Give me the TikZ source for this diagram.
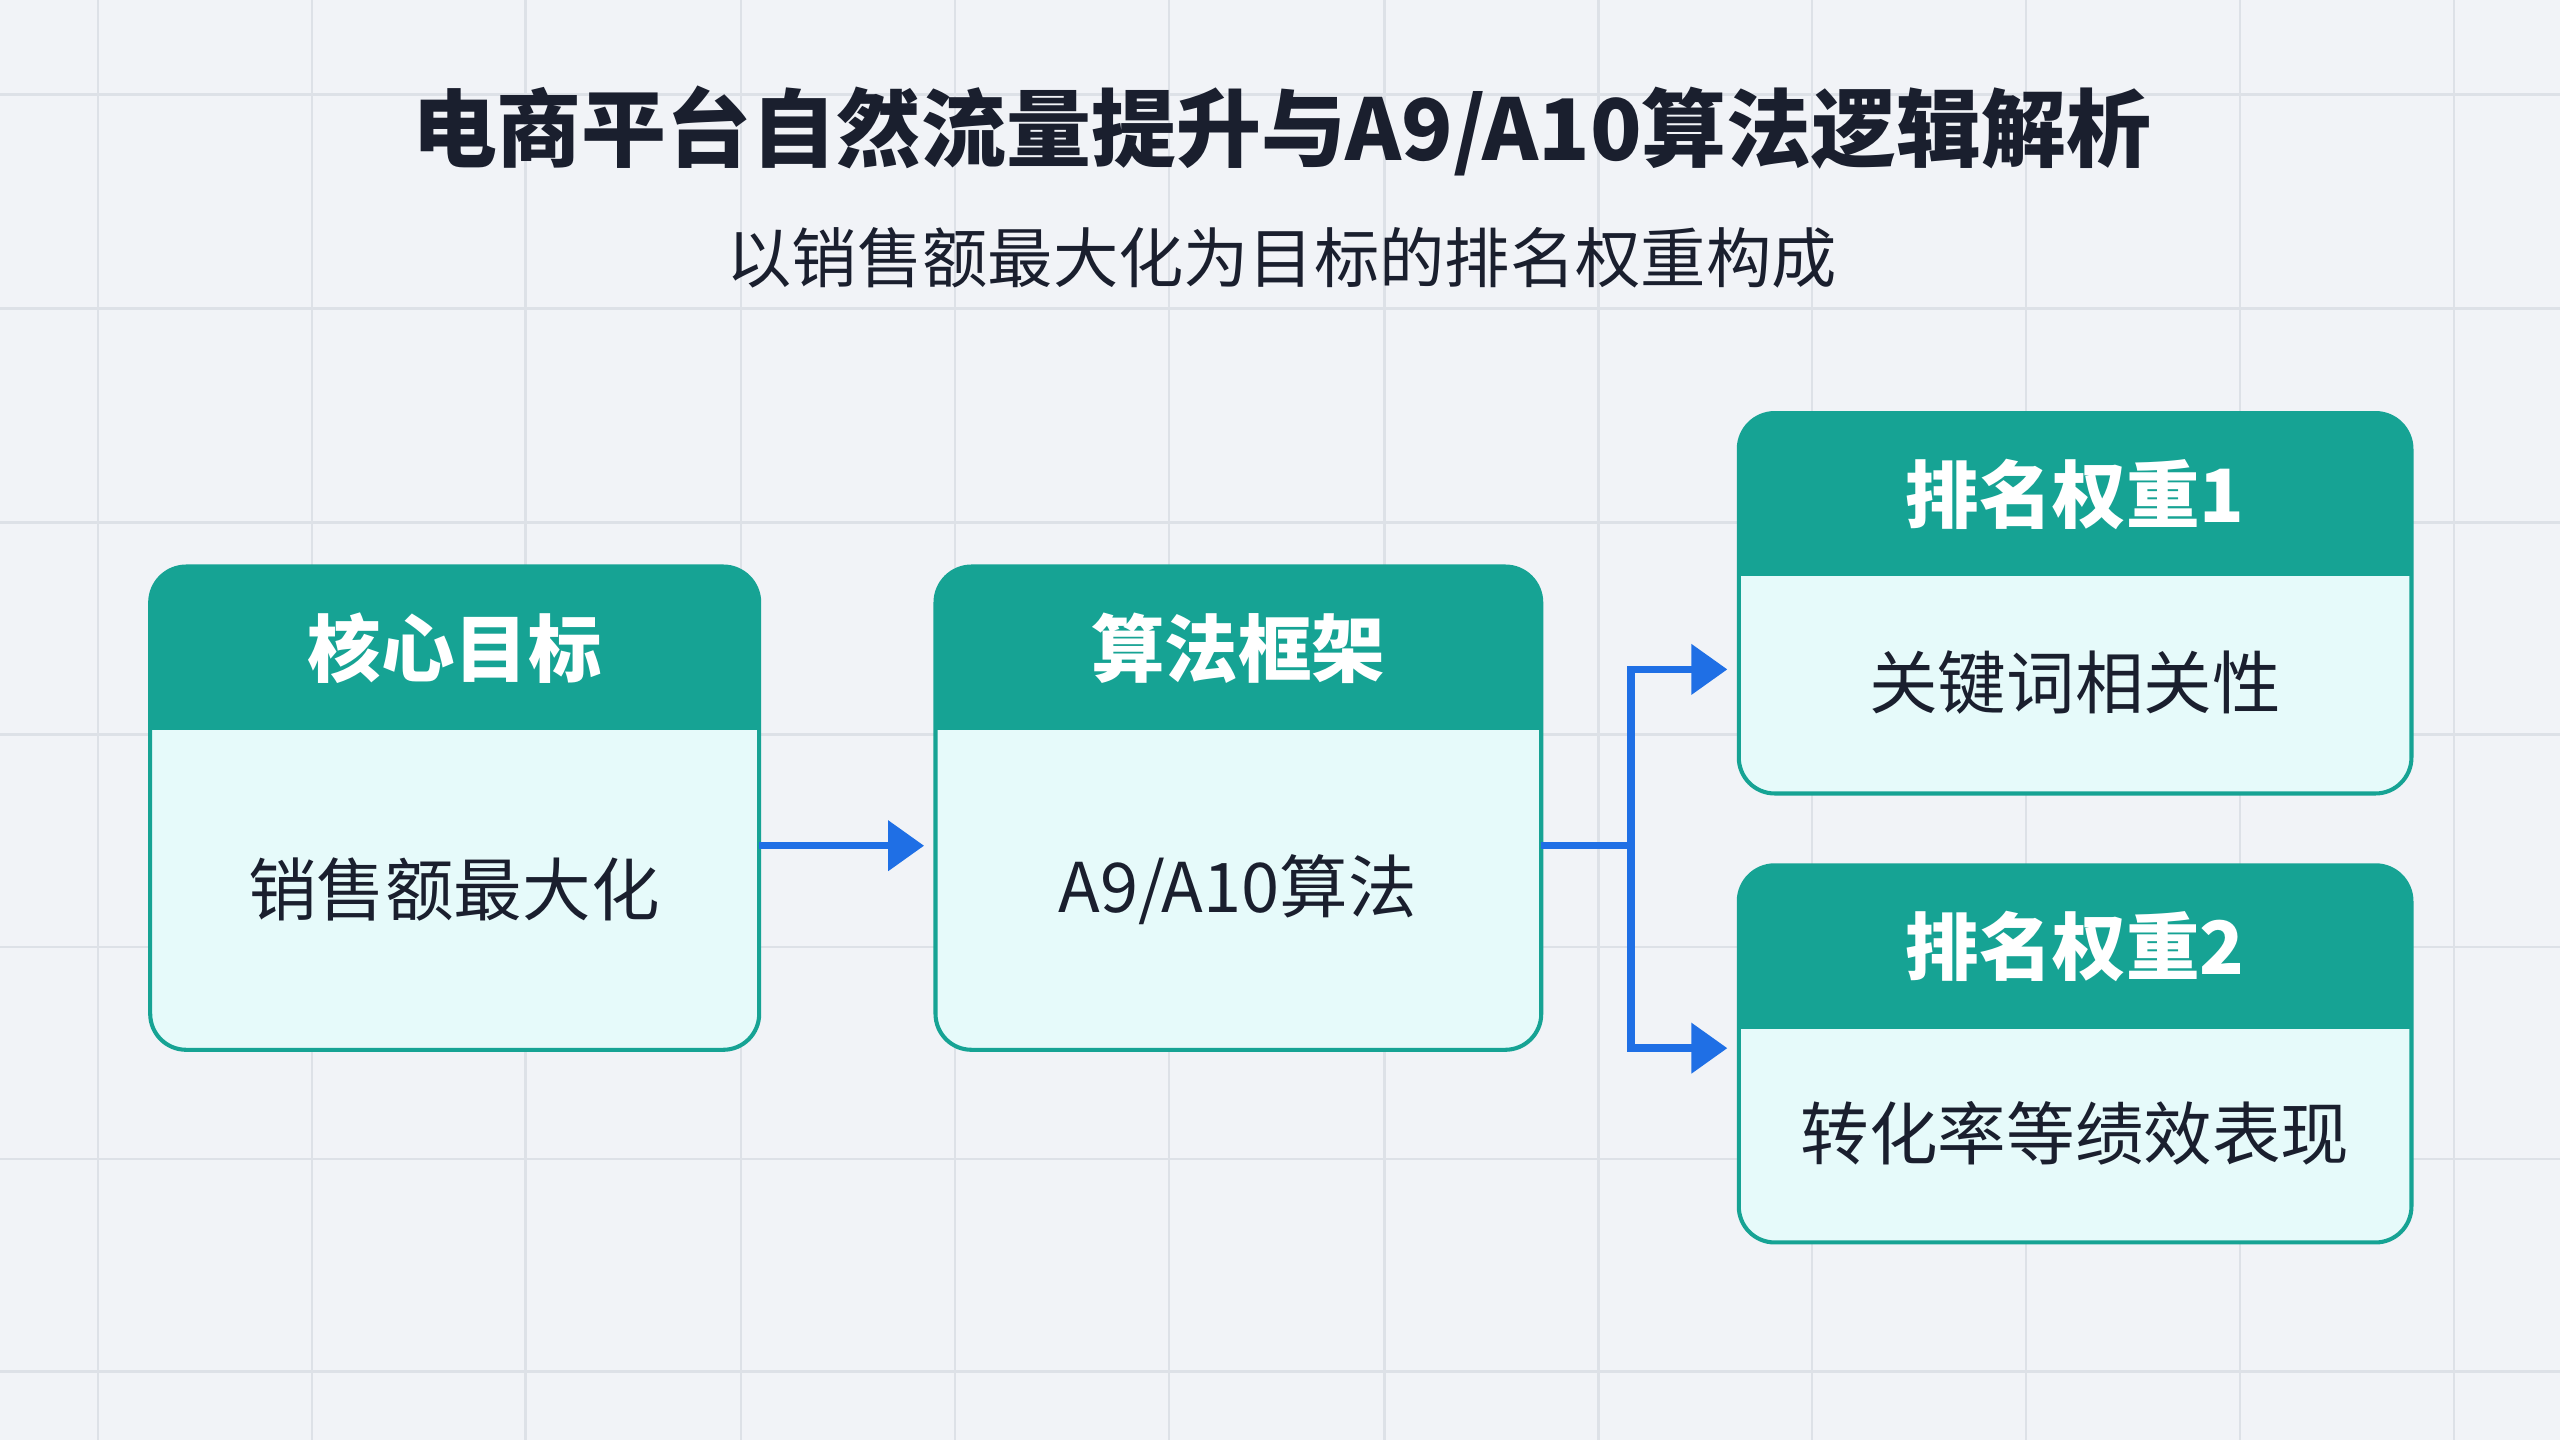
\documentclass[tikz,border=0pt]{standalone}
\usepackage{fontspec}
\setmainfont{Noto Sans CJK SC}
\usetikzlibrary{arrows.meta}
\definecolor{bg}{HTML}{F1F3F7}
\definecolor{gridc}{HTML}{DDE1E7}
\definecolor{teal}{HTML}{16A394}
\definecolor{bodyc}{HTML}{E6FAFA}
\definecolor{bluec}{HTML}{1F6FE5}
\definecolor{ink}{HTML}{1A1F2E}
\tikzset{
  hdr/.style={text=white,font=\fontsize{45}{50}\selectfont\bfseries},
  bdy/.style={text=ink,font=\fontsize{42}{48}\selectfont},
  conn/.style={draw=bluec,line width=4.5pt},
  arr/.style={conn,-{Triangle[length=22pt,width=30pt]}}
}
\newcommand{\card}[7]{% x1 y1 x2 y2 yh name header ... body via node
  \fill[bodyc,rounded corners=22pt] (#1,#2) rectangle (#3,#4);
  \begin{scope}
    \clip[rounded corners=22pt] (#1,#2) rectangle (#3,#4);
    \fill[teal] (#1,#2) rectangle (#3,#5);
  \end{scope}
  \draw[teal,line width=2.5pt,rounded corners=22pt] (#1,#2) rectangle (#3,#4);
  \node[hdr] (#6h) at ({(#1+#3)/2},{(#2+#5)/2}) {#7};
}
\begin{document}
\begin{tikzpicture}[x=1pt,y=-1pt]
\useasboundingbox (0,0) rectangle (1568,882);
\fill[bg] (0,0) rectangle (1568,882);
\foreach \x in {60,191,322,454,585,716,848,979,1110,1241,1372,1503}
  \draw[gridc,line width=1.5pt] (\x,0) -- (\x,882);
\foreach \y in {58,189,320,450,580,710,840}
  \draw[gridc,line width=1.5pt] (0,\y) -- (1568,\y);
\node[text=ink,font=\fontsize{52}{60}\selectfont\bfseries] (title) at (785,80) {电商平台自然流量提升与A9/A10算法逻辑解析};
\node[text=ink,font=\fontsize{40}{48}\selectfont] (sub) at (785,158) {以销售额最大化为目标的排名权重构成};
\card{92}{347}{465}{643}{447}{a}{核心目标}
\node[bdy] (ab) at (278,545) {销售额最大化};
\card{573}{347}{944}{643}{447}{b}{算法框架}
\node[bdy] (bb) at (758,545) {A9/A10算法};
\card{1065}{253}{1477}{486}{353}{c}{排名权重1}
\node[bdy] (cb) at (1271,418) {关键词相关性};
\card{1065}{530}{1477}{761}{630}{d}{排名权重2}
\node[bdy] (db) at (1271,694) {转化率等绩效表现};
\coordinate (a1) at (465,518);
\coordinate (b1) at (566,518);
\coordinate (b2) at (944,518);
\coordinate (j) at (999,518);
\coordinate (c1) at (1058,410);
\coordinate (d1) at (1058,642);
\draw[arr] (a1) -- (b1);
\draw[conn] (b2) -- (j);
\draw[arr] (j) |- (c1);
\draw[arr] (j) |- (d1);
\end{tikzpicture}
\end{document}
